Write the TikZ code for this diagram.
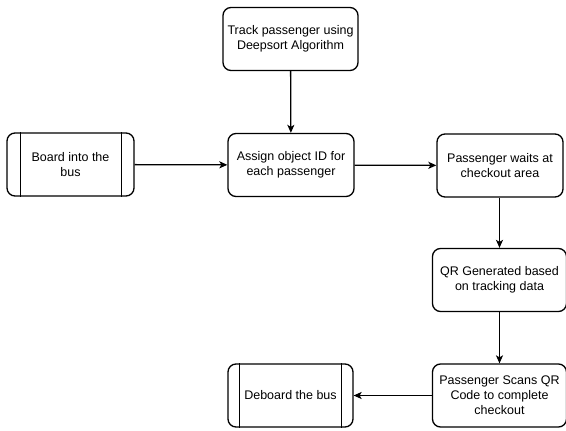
\documentclass[tikz,border=0pt]{standalone}
\usepackage{fontspec}
\setmainfont{Liberation Sans}
\usetikzlibrary{arrows.meta}
\begin{document}
\begin{tikzpicture}[x=1pt,y=-1pt,
  every node/.style={font=\fontsize{12.5}{15}\selectfont},
  stepbox/.style={draw, line width=1.3pt, rounded corners=8pt, inner sep=0pt,
    align=center, minimum height=63pt},
  flow/.style={line width=1.3pt, -{Stealth[length=8pt,width=7pt,inset=2pt]}},
  sideline/.style={line width=1.3pt}]
\useasboundingbox[fill=white] (0,0) rectangle (566,431);

% main chain of steps
\node[stepbox, minimum width=135pt] (track) at (290.5,39) {Track passenger using\\Deepsort Algorithm};
\node[stepbox, minimum width=127pt] (board) at (70.5,164.5) {Board into the\\bus};
\node[stepbox, minimum width=126pt] (assign) at (291,165) {Assign object ID for\\each passenger};
\node[stepbox, minimum width=126pt] (waits) at (500,165.5) {Passenger waits at\\checkout area};
\node[stepbox, minimum width=134pt] (qr) at (499.5,280) {QR Generated based\\on tracking data};
\node[stepbox, minimum width=134pt] (scan) at (499.5,395.5) {Passenger Scans QR\\Code to complete\\checkout};
\node[stepbox, minimum width=125pt] (deboard) at (290.5,395.5) {Deboard the bus};

% side bars of the terminal steps
\draw[sideline] ([xshift=14pt]board.north west) -- ([xshift=14pt]board.south west);
\draw[sideline] ([xshift=-13pt]board.north east) -- ([xshift=-13pt]board.south east);
\draw[sideline] ([xshift=12pt]deboard.north west) -- ([xshift=12pt]deboard.south west);
\draw[sideline] ([xshift=-12pt]deboard.north east) -- ([xshift=-12pt]deboard.south east);

% connectors
\draw[flow] (track) -- (assign);
\draw[flow] (board) -- (assign);
\draw[flow] (assign) -- (waits);
\draw[flow] (waits.south -| qr.north) -- (qr.north);
\draw[flow] (qr) -- (scan);
\draw[flow] (scan) -- (deboard);
\end{tikzpicture}
\end{document}
